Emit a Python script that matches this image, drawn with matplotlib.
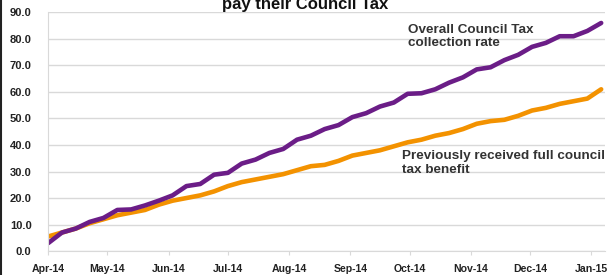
import numpy as np
import pandas as pd
import matplotlib
matplotlib.use("Agg")
import matplotlib.pyplot as plt
import matplotlib.dates as mdates

# weekly readings, Apr-14 to early Jan-15
weeks = pd.date_range("2014-04-01", periods=41, freq="7D")
overall = [3.0, 7.0, 8.5, 11.0, 12.5, 15.5, 15.7, 17.2, 19.0, 21.0,
           24.5, 25.3, 28.8, 29.5, 33.0, 34.5, 37.0, 38.5, 42.0, 43.5,
           46.0, 47.5, 50.5, 52.0, 54.5, 56.0, 59.3, 59.5, 61.0, 63.5,
           65.5, 68.5, 69.3, 72.0, 74.0, 77.0, 78.5, 81.0, 81.0, 83.0, 86.0]
prev_ctb = [5.5, 7.0, 8.5, 10.5, 12.0, 13.5, 14.5, 15.5, 17.5, 19.0,
            20.0, 21.0, 22.5, 24.5, 26.0, 27.0, 28.0, 29.0, 30.5, 32.0,
            32.5, 34.0, 36.0, 37.0, 38.0, 39.5, 41.0, 42.0, 43.5, 44.5,
            46.0, 48.0, 49.0, 49.5, 51.0, 53.0, 54.0, 55.5, 56.5, 57.5, 61.0]
yticks = np.arange(0, 91, 10)

plt.rcParams["font.family"] = ["Liberation Sans", "DejaVu Sans"]

fig = plt.figure(figsize=(6.10, 2.75), dpi=100)
ax = fig.add_axes([0.079, 0.087, 0.913, 0.868])

ax.plot(weeks, prev_ctb, color="#f39200", lw=3.3, solid_capstyle="round")
ax.plot(weeks, overall, color="#6b1d87", lw=3.3, solid_capstyle="round")

ax.set_ylim(0, 90)
ax.set_xlim(pd.Timestamp("2014-04-01"), pd.Timestamp("2015-01-08"))
ax.set_yticks(yticks)
ax.set_yticklabels([f"{v:.1f}" for v in yticks])
ax.xaxis.set_major_locator(mdates.MonthLocator())
ax.xaxis.set_major_formatter(mdates.DateFormatter("%b-%y"))

ax.grid(axis="y", color="#d9d9d9", lw=1)
ax.set_axisbelow(True)
for s in ["top", "right"]:
    ax.spines[s].set_visible(False)
ax.spines["left"].set_color("#d9d9d9")
ax.spines["bottom"].set_color("#d9d9d9")
ax.tick_params(axis="y", length=0, pad=12, labelsize=8, labelcolor="#222222")
ax.tick_params(axis="x", length=3, color="#d9d9d9", pad=6, labelsize=7.6,
               labelcolor="#222222")
for lab in ax.get_xticklabels() + ax.get_yticklabels():
    lab.set_fontweight("bold")

ax.text(pd.Timestamp("2014-09-30"), 85.8, "Overall Council Tax\ncollection rate",
        fontsize=9.7, fontweight="bold", color="#333333", va="top", ha="left",
        linespacing=1.15)
ax.text(pd.Timestamp("2014-09-27"), 38.0, "Previously received full council\ntax benefit",
        fontsize=9.7, fontweight="bold", color="#333333", va="top", ha="left",
        linespacing=1.15)

# title cut off at the top of the picture
fig.text(0.5, 0.982, "pay their Council Tax", ha="center", va="center",
         fontsize=12, fontweight="bold", color="#111111")

# frame edge on the left
fig.add_artist(plt.Line2D([0.002, 0.002], [0, 1], transform=fig.transFigure,
                          color="#222222", lw=1.5))

fig.savefig("out.png", dpi=100)
